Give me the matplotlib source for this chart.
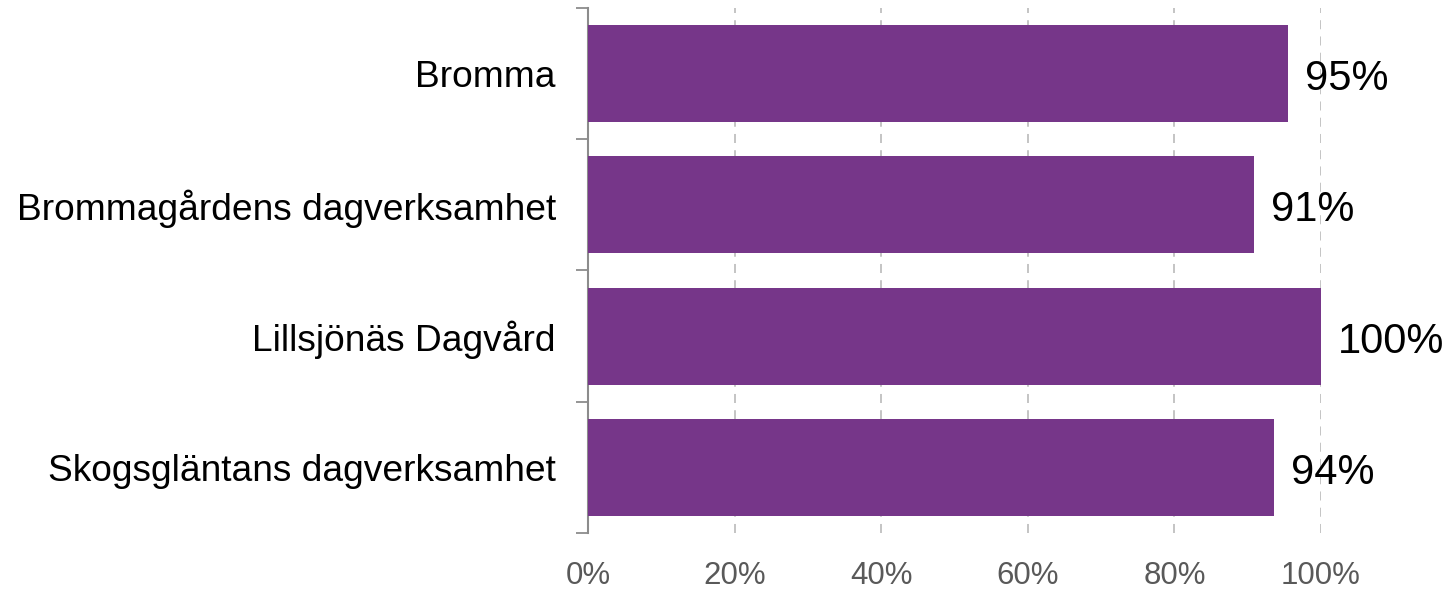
import matplotlib
matplotlib.use("Agg")
import matplotlib.pyplot as plt
import numpy as np

plt.rcParams["font.family"] = ["Liberation Sans", "DejaVu Sans"]

categories = ["Bromma", "Brommagårdens dagverksamhet", "Lillsjönäs Dagvård",
              "Skogsgläntans dagverksamhet"]
values = [0.955, 0.909, 1.0, 0.936]
labels = ["95%", "91%", "100%", "94%"]
xticks = [0, 0.2, 0.4, 0.6, 0.8, 1.0]
xticklabels = ["0%", "20%", "40%", "60%", "80%", "100%"]

bar_color = "#763689"
spine_color = "#8c8c8c"

fig = plt.figure(figsize=(14.56, 5.89), dpi=100)
ax = fig.add_axes([0.4038, 0.0951, 0.5035, 0.8913])

y = np.arange(len(categories))
ax.barh(y, values, height=0.74, color=bar_color, zorder=3)

for yi, v, lab in zip(y, values, labels):
    ax.annotate(lab, (v, yi), xytext=(12, -4), textcoords="offset points",
                va="center", ha="left", fontsize=30, color="black", zorder=4)

ax.set_xlim(0, 1.0)
ax.set_ylim(len(categories) - 0.5, -0.5)

ax.set_xticks(xticks)
ax.set_xticklabels(xticklabels, fontsize=22.5, color="#595959")
ax.tick_params(axis="x", length=0, pad=20)
ax.xaxis.grid(True, linestyle=(0, (5, 4)), color="#bfbfbf", linewidth=1.3, zorder=0)

ax.set_yticks(y)
ax.set_yticklabels(categories, fontsize=26.7, color="black")
ax.tick_params(axis="y", which="major", length=0, pad=23)
ax.set_yticks(np.arange(-0.5, len(categories)), minor=True)
ax.tick_params(axis="y", which="minor", length=9, width=1.3, color=spine_color)

for side in ["top", "right", "bottom"]:
    ax.spines[side].set_visible(False)
ax.spines["left"].set_color(spine_color)
ax.spines["left"].set_linewidth(1.5)

fig.savefig("out.png", dpi=100)
